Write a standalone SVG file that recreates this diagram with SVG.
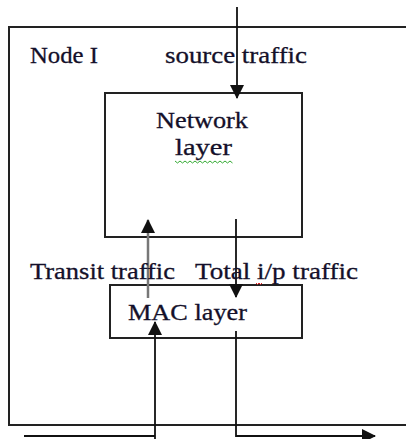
<svg xmlns="http://www.w3.org/2000/svg" width="406" height="439" viewBox="0 0 406 439">
<style>
  .box { fill: none; stroke: #222; stroke-width: 2; }
  .lbl { font-family: "Liberation Serif", "Times New Roman", serif; font-size: 24px; fill: #14102a; stroke: #14102a; stroke-width: 0.3; }
  .wire { fill: none; stroke: #111; stroke-width: 1.8; }
  .wire-gray { fill: none; stroke: #777; stroke-width: 2.5; }
</style>
<defs>
  <marker id="arr" viewBox="0 0 14 14" markerWidth="14" markerHeight="14" refX="13" refY="7" orient="auto" markerUnits="userSpaceOnUse">
    <path d="M0,0 L14,7 L0,14 z" fill="#111"/>
  </marker>
  <marker id="arrGray" viewBox="0 0 14 14" markerWidth="14" markerHeight="14" refX="13" refY="7" orient="auto" markerUnits="userSpaceOnUse">
    <path d="M0,0 L14,7 L0,14 z" fill="#111"/>
  </marker>
</defs>
<rect width="406" height="439" fill="#fff"/>

<g id="node-i">
  <path class="box" d="M410,27 L9,27 L9,425 L410,425"/>
  <text class="lbl" x="30" y="63" textLength="68" lengthAdjust="spacingAndGlyphs">Node I</text>
</g>

<g id="network-layer">
  <rect class="box" x="105" y="93" width="197" height="144"/>
  <text class="lbl" x="156" y="128" textLength="92" lengthAdjust="spacingAndGlyphs">Network</text>
  <text class="lbl" x="175" y="155" textLength="57" lengthAdjust="spacingAndGlyphs">layer</text>
  <path d="M175,161 l2.5,2 l2.5,-2 l2.5,2 l2.5,-2 l2.5,2 l2.5,-2 l2.5,2 l2.5,-2 l2.5,2 l2.5,-2 l2.5,2 l2.5,-2 l2.5,2 l2.5,-2 l2.5,2 l2.5,-2 l2.5,2 l2.5,-2 l2.5,2 l2.5,-2 l2.5,2 l2.5,-2 l2.5,2" fill="none" stroke="#3a3" stroke-width="1"/>
</g>

<g id="mac-layer">
  <rect class="box" x="110" y="285" width="192" height="53"/>
  <text class="lbl" x="128" y="320" textLength="119" lengthAdjust="spacingAndGlyphs">MAC layer</text>
</g>

<g id="connectors">
  <line class="wire" x1="237" y1="7" x2="237" y2="98" marker-end="url(#arr)"/>
  <line class="wire-gray" x1="148" y1="298" x2="148" y2="220" marker-end="url(#arrGray)"/>
  <line class="wire" x1="236" y1="219" x2="236" y2="297" marker-end="url(#arr)"/>
  <path class="wire" d="M24,436 L155,436"/>
  <line class="wire" x1="155" y1="442" x2="155" y2="322" marker-end="url(#arr)"/>
  <path class="wire" d="M236,331 L236,436 L375,436" marker-end="url(#arr)"/>
</g>

<g id="labels">
  <text class="lbl" x="165" y="63" textLength="142" lengthAdjust="spacingAndGlyphs">source traffic</text>
  <text class="lbl" x="30" y="279" textLength="145" lengthAdjust="spacingAndGlyphs">Transit traffic</text>
  <text class="lbl" x="195" y="279" textLength="163" lengthAdjust="spacingAndGlyphs">Total i/p traffic</text>
  <path d="M256,283 l1.5,1.5 l1.5,-1.5 l1.5,1.5 l1.5,-1.5" fill="none" stroke="#d22" stroke-width="1"/>
</g>
</svg>
